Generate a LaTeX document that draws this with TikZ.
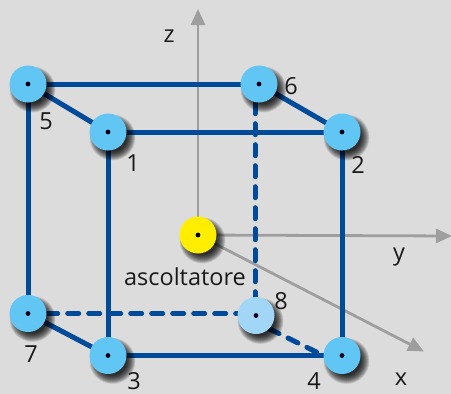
\documentclass[tikz,border=0pt]{standalone}
\usepackage{fontspec}
\setmainfont{Open Sans}
\usetikzlibrary{arrows.meta,backgrounds}
\definecolor{bgc}{HTML}{DCDCDC}
\definecolor{edgeblue}{HTML}{004A9A}
\definecolor{axisgray}{HTML}{9E9E9E}
\definecolor{spk}{HTML}{62C6F5}
\definecolor{spkl}{HTML}{A2D6F7}
\definecolor{lis}{HTML}{FFEE00}
\pgfdeclarelayer{axislayer}
\pgfdeclarelayer{edgelayer}
\pgfdeclarelayer{shadowlayer}
\pgfsetlayers{background,axislayer,edgelayer,shadowlayer,main}
\tikzset{
  spot/.style={circle,fill=#1,minimum size=37pt,inner sep=0pt,draw=none},
  lab/.style={font=\fontsize{23.5}{25}\selectfont,text=black!90,inner sep=0pt},
  edgeline/.style={draw=edgeblue,line width=5pt},
  edgedash/.style={edgeline,dash pattern=on 11pt off 10pt,line cap=round},
  axisline/.style={draw=axisgray,line width=2.8pt,-{Triangle[length=16pt,width=14pt]}},
  centre/.style={fill=black!90!blue}
}
\begin{document}
\begin{tikzpicture}[x=1pt,y=-1pt]
\useasboundingbox (0,0) rectangle (451,394);
\begin{pgfonlayer}{background}
\fill[bgc] (0,0) rectangle (451,394);
\end{pgfonlayer}
\node[spot=spk] (n5) at (28,84) {};
\node[spot=spk] (n1) at (108,132) {};
\node[spot=spk] (n6) at (259,84) {};
\node[spot=spk] (n2) at (342,132) {};
\node[spot=spk] (n7) at (28,313.5) {};
\node[spot=spk] (n3) at (108,355.5) {};
\node[spot=spkl] (n8) at (256,315.5) {};
\node[spot=spk] (n4) at (342,355.5) {};
\node[spot=lis] (L) at (198,235) {};
\coordinate (zend) at (198,9);
\coordinate (yend) at (452,236);
\coordinate (xend) at (424,351.5);
\begin{pgfonlayer}{axislayer}
\draw[axisline] (L.center) -- (zend);
\draw[axisline] (L.center) -- (yend);
\draw[axisline] (L.center) -- (xend);
\end{pgfonlayer}
\begin{pgfonlayer}{edgelayer}
\draw[edgeline] (n5.center) -- (n6.center);
\draw[edgeline] (n5.center) -- (n1.center);
\draw[edgeline] (n5.center) -- (n7.center);
\draw[edgeline] (n1.center) -- (n2.center);
\draw[edgeline] (n1.center) -- (n3.center);
\draw[edgeline] (n6.center) -- (n2.center);
\draw[edgeline] (n2.center) -- (n4.center);
\draw[edgeline] (n7.center) -- (n3.center);
\draw[edgeline] (n3.center) -- (n4.center);
\draw[edgedash] ([xshift=-4pt]n6.south) -- ([xshift=-1pt]n8.north);
\draw[edgedash] (n7.east) -- ([yshift=2pt]n8.west);
\draw[edgedash] (n8.south east) -- (n4.west);
\end{pgfonlayer}
\begin{pgfonlayer}{shadowlayer}
\foreach \n in {n5,n1,n6,n2,n7,n3,n8,n4,L}{
  \foreach \r in {23,22.5,...,14}{
    \fill[black,opacity=0.075] ([shift={(4.5,5.5)}]\n.center) circle (\r pt);
  }
}
\end{pgfonlayer}
\foreach \n in {n5,n1,n6,n2,n7,n3,n8,n4,L}{
  \fill[centre] (\n.center) circle (2.4pt);
}
\node[lab] (tz) at (169,36) {z};
\node[lab] (ty) at (399,257) {y};
\node[lab] (tx) at (401,379) {x};
\node[lab] (t5) at (46,121) {5};
\node[lab] (t1) at (133,163) {1};
\node[lab] (t6) at (291,86) {6};
\node[lab] (t2) at (358,165) {2};
\node[lab] (t8) at (281,301) {8};
\node[lab] (t7) at (31,354) {7};
\node[lab] (t3) at (134,381) {3};
\node[lab] (t4) at (314,381) {4};
\node[lab] (tl) at (185,277) {ascoltatore};
\end{tikzpicture}
\end{document}
